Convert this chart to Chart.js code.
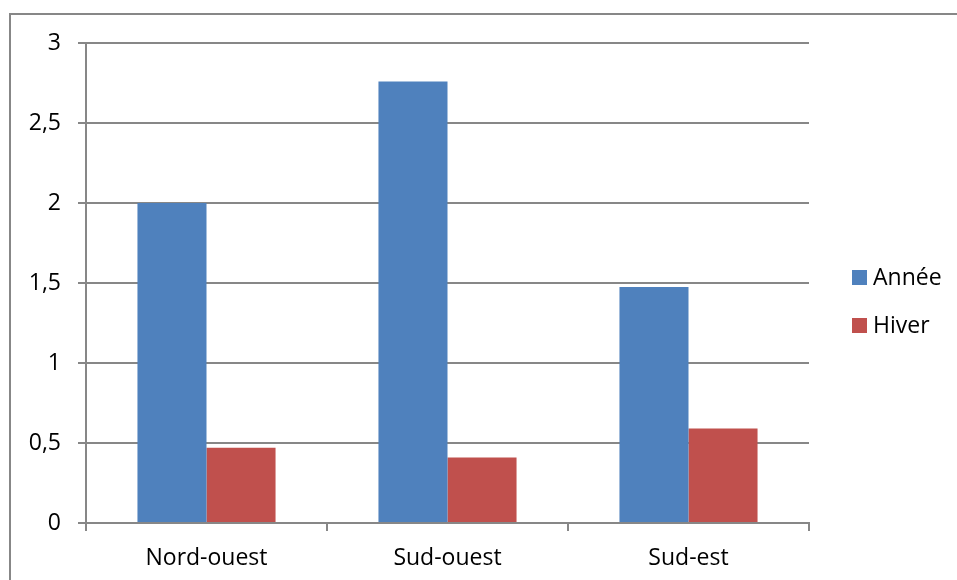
<!DOCTYPE html>
<html>
<head>
<meta charset="utf-8">
<script src="https://cdn.jsdelivr.net/npm/chart.js@4/dist/chart.umd.min.js"></script>
<style>
  html, body { margin: 0; padding: 0; background: #fff; overflow: hidden; }
  #frame { position: absolute; left: 9px; top: 13px; width: 1000px; height: 1000px; border: 2px solid #878787; }
  #wrap { position: absolute; left: 0; top: 0; width: 957px; height: 580px; }
</style>
</head>
<body>
<div id="frame"></div>
<div id="wrap"><canvas id="chart" width="957" height="580"></canvas></div>
<script>
// Regions and the two series (annual and winter)
const regions = ['Nord-ouest', 'Sud-ouest', 'Sud-est'];
const anneeValues = [2.0, 2.76, 1.475];
const hiverValues = [0.47, 0.41, 0.59];
const seriesNames = ['Année', 'Hiver'];
const seriesColors = ['#4F81BD', '#C0504D'];
const yTickLabels = ['0', '0,5', '1', '1,5', '2', '2,5', '3'];

const FONT = '"Open Sans", "Liberation Sans", sans-serif';
const FONT_SIZE = 23;
const GRID = '#878787';

// Legend block to the right of the plot area
const sideLegend = {
  id: 'sideLegend',
  afterDraw(chart) {
    const { ctx, chartArea } = chart;
    const x = chartArea.right + 43;
    let base = chartArea.top + 242;
    ctx.save();
    ctx.font = FONT_SIZE + 'px ' + FONT;
    ctx.textBaseline = 'alphabetic';
    chart.data.datasets.forEach(ds => {
      ctx.fillStyle = ds.backgroundColor;
      ctx.fillRect(x, base - 15, 15, 15);
      ctx.fillStyle = '#000';
      ctx.fillText(ds.label, x + 21, base);
      base += 48;
    });
    ctx.restore();
  }
};

new Chart(document.getElementById('chart'), {
  type: 'bar',
  data: {
    labels: regions,
    datasets: [
      { label: seriesNames[0], data: anneeValues, backgroundColor: seriesColors[0], borderWidth: 0 },
      { label: seriesNames[1], data: hiverValues, backgroundColor: seriesColors[1], borderWidth: 0 }
    ]
  },
  options: {
    responsive: false,
    animation: false,
    devicePixelRatio: 1,
    layout: { padding: { top: 43, right: 148, bottom: 0, left: 0 } },
    datasets: { bar: { categoryPercentage: 0.573, barPercentage: 1.0 } },
    plugins: { legend: { display: false }, tooltip: { enabled: false } },
    scales: {
      x: {
        offset: true,
        grid: { offset: true, drawOnChartArea: false, drawTicks: true, tickLength: 8, color: GRID, lineWidth: 2 },
        border: { color: GRID, width: 2 },
        ticks: { color: '#000', font: { family: FONT, size: FONT_SIZE }, padding: 14, maxRotation: 0 },
        afterFit(scale) { scale.height = 57; }
      },
      y: {
        min: 0,
        max: 3,
        grid: { color: GRID, lineWidth: 2, tickLength: 8, drawTicks: true },
        border: { color: GRID, width: 2 },
        ticks: {
          stepSize: 0.5,
          color: '#000',
          font: { family: FONT, size: FONT_SIZE },
          padding: 17,
          callback: (value, index) => yTickLabels[index]
        },
        afterFit(scale) { scale.width = 86; }
      }
    }
  },
  plugins: [sideLegend]
});
</script>
</body>
</html>
